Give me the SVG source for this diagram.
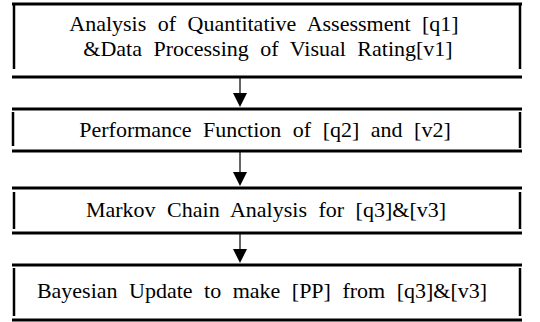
<svg xmlns="http://www.w3.org/2000/svg" width="540" height="322" viewBox="0 0 540 322">
<defs>
<style>
.h{stroke:#000;stroke-width:3}
.v{stroke:#000;stroke-width:2.5}
.t{font-family:"Liberation Serif","Times New Roman",serif;font-size:22px;fill:#000;text-anchor:middle;word-spacing:6px}
.c{stroke:#000;stroke-width:1.2;fill:none}
.a{fill:#000}
</style>
</defs>
<rect width="540" height="322" fill="#fff"/>
<g id="connectors">
<line class="c" x1="240" y1="78" x2="240" y2="100"/>
<path class="a" d="M233,93 L247,93 L240,107 Z"/>
<line class="c" x1="240" y1="152" x2="240" y2="180"/>
<path class="a" d="M233,172 L247,172 L240,186 Z"/>
<line class="c" x1="240" y1="234" x2="240" y2="256"/>
<path class="a" d="M233,249 L247,249 L240,263 Z"/>
</g>
<g id="node1">
<line class="h" x1="12" y1="4" x2="522" y2="4"/>
<line class="h" x1="12" y1="77" x2="522" y2="77"/>
<line class="v" x1="14" y1="5" x2="14" y2="69"/>
<line class="v" x1="520" y1="5" x2="520" y2="69"/>
<text class="t" x="264" y="31">Analysis of Quantitative Assessment [q1]</text>
<text class="t" x="268" y="56">&amp;Data Processing of Visual Rating[v1]</text>
</g>
<g id="node2">
<line class="h" x1="12" y1="109" x2="522" y2="109"/>
<line class="h" x1="12" y1="151" x2="522" y2="151"/>
<line class="v" x1="13" y1="112" x2="13" y2="146"/>
<line class="v" x1="520" y1="112" x2="520" y2="148"/>
<text class="t" x="265" y="137">Performance Function of [q2] and [v2]</text>
</g>
<g id="node3">
<line class="h" x1="12" y1="188" x2="522" y2="188"/>
<line class="h" x1="12" y1="233" x2="522" y2="233"/>
<line class="v" x1="14" y1="192" x2="14" y2="229"/>
<line class="v" x1="520" y1="192" x2="520" y2="229"/>
<text class="t" x="266" y="217">Markov Chain Analysis for [q3]&amp;[v3]</text>
</g>
<g id="node4">
<line class="h" x1="12" y1="265" x2="522" y2="265"/>
<line class="h" x1="12" y1="320" x2="522" y2="320"/>
<line class="v" x1="14" y1="268" x2="14" y2="316"/>
<line class="v" x1="520" y1="268" x2="520" y2="316"/>
<text class="t" x="262" y="298">Bayesian Update to make [PP] from [q3]&amp;[v3]</text>
</g>
</svg>
